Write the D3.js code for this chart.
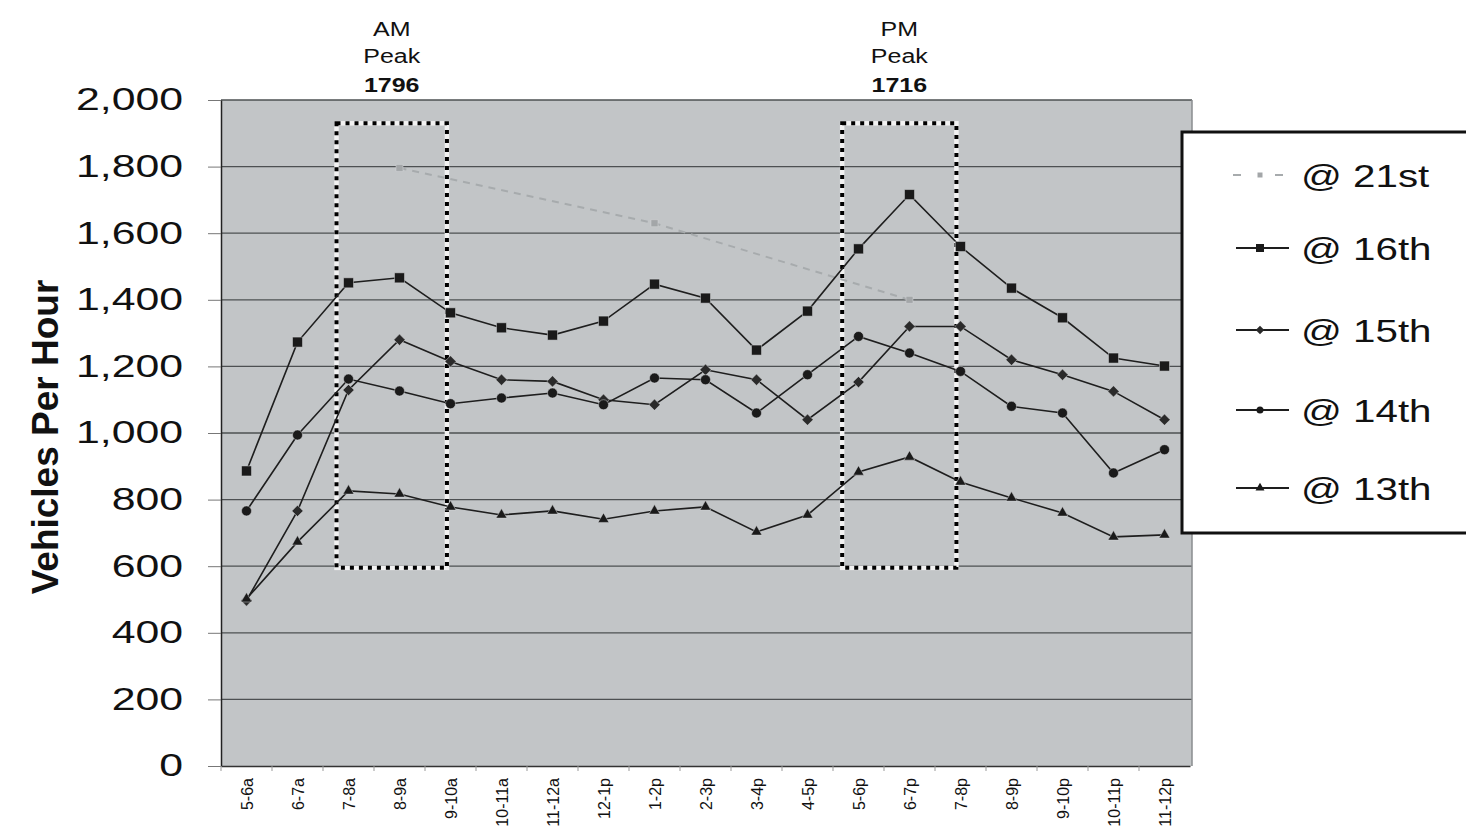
<!DOCTYPE html>
<html>
<head>
<meta charset="utf-8">
<script src="https://cdn.jsdelivr.net/npm/d3@7/dist/d3.min.js"></script>
<style>
  html, body { margin: 0; padding: 0; background: #ffffff; }
  svg { display: block; }
  text { font-family: "Liberation Sans", Arial, sans-serif; fill: #111; }
</style>
</head>
<body>
<svg id="chart" width="1466" height="830"></svg>
<script>
// ---------------- DATA ----------------
const categories = ["5-6a","6-7a","7-8a","8-9a","9-10a","10-11a","11-12a","12-1p","1-2p","2-3p",
                    "3-4p","4-5p","5-6p","6-7p","7-8p","8-9p","9-10p","10-11p","11-12p"];
const yTicks = [0,200,400,600,800,1000,1200,1400,1600,1800,2000];
const seriesNames = ["@ 21st","@ 16th","@ 15th","@ 14th","@ 13th"];
const at21st = [null,null,null,1796,null,null,null,null,1630,null,null,null,null,1400,null,null,null,null,null];
const at16th = [886,1273,1451,1466,1361,1316,1294,1336,1447,1405,1249,1366,1553,1716,1560,1435,1346,1225,1201];
const at15th = [497,766,1129,1280,1215,1160,1155,1100,1085,1190,1160,1040,1153,1320,1320,1220,1175,1125,1040];
const at14th = [766,994,1162,1126,1088,1105,1120,1085,1165,1160,1060,1175,1290,1240,1185,1080,1060,880,950];
const at13th = [502,673,826,817,778,754,766,741,766,778,703,754,883,928,853,805,760,688,694];
const peakNames = ["AM","PM"];
const peakValues = [1796,1716];
const peakFrom = ["7-8a","5-6p"];
const peakTo = ["9-10a","7-8p"];
const peakBoxRange = [595,1930];
const yTitle = "Vehicles Per Hour";

// ---------------- LAYOUT ----------------
const svg = d3.select("#chart");
const L = 221, R = 1190, T = 100, B = 766;
const x = d3.scalePoint().domain(categories).range([L, R]).padding(0.5);
const y = d3.scaleLinear().domain([0, 2000]).range([B, T]);
const step = x.step();

// plot background
svg.append("rect").attr("x", L).attr("y", T).attr("width", 1192 - L).attr("height", B - T)
  .attr("fill", "#c2c5c7");

// gridlines
svg.append("g").selectAll("line").data(yTicks.filter(d => d > 0)).join("line")
  .attr("x1", L).attr("x2", 1192).attr("y1", d => y(d)).attr("y2", d => y(d))
  .attr("stroke", "#4d5052").attr("stroke-width", 1.3);
svg.append("line").attr("x1", 1192).attr("x2", 1192).attr("y1", T).attr("y2", B)
  .attr("stroke", "#8a8d8f").attr("stroke-width", 1.5);

// y axis
const SX = 1.38;
const yAxis = svg.append("g").attr("transform", `translate(${L},0)`)
  .call(d3.axisLeft(y).tickValues(yTicks).tickFormat(d3.format(",")).tickSize(13).tickPadding(25).tickSizeOuter(0));
yAxis.select(".domain").attr("stroke", "#222").attr("stroke-width", 1.5);
yAxis.selectAll(".tick line").attr("stroke", "#777").attr("stroke-width", 1);
yAxis.selectAll(".tick text")
  .attr("font-size", 31).attr("fill", "#222")
  .attr("font-family", "Liberation Sans, Arial, sans-serif")
  .attr("x", -38 / SX).attr("transform", `scale(${SX},1)`);

// x axis
const xAxis = svg.append("g").attr("transform", `translate(0,${B})`)
  .call(d3.axisBottom(x).tickSize(0).tickPadding(0).tickSizeOuter(0));
xAxis.select(".domain").attr("stroke", "#333").attr("stroke-width", 1.5);
xAxis.selectAll(".tick text")
  .attr("font-size", 16).attr("fill", "#111")
  .attr("font-family", "Liberation Sans, Arial, sans-serif")
  .attr("text-anchor", "end").attr("dy", "0.35em")
  .attr("transform", "translate(0,12) rotate(-90)").attr("x", 0).attr("y", 0);
svg.append("g").selectAll("line").data(categories).join("line")
  .attr("x1", d => x(d) - step / 2).attr("x2", d => x(d) - step / 2)
  .attr("y1", B).attr("y2", B + 5).attr("stroke", "#999").attr("stroke-width", 1);

// y title
svg.append("text").attr("transform", "translate(58,437) rotate(-90)")
  .attr("text-anchor", "middle").attr("font-size", 37).attr("font-weight", "bold")
  .attr("fill", "#1a1a1a").text(yTitle);

// peak boxes
const boxOffsets = [[0.235, 0.07], [0.32, 0.08]];
peakNames.forEach((name, i) => {
  const x0 = x(peakFrom[i]) - boxOffsets[i][0] * step;
  const x1 = x(peakTo[i]) - boxOffsets[i][1] * step;
  const y0 = y(peakBoxRange[1]), y1 = y(peakBoxRange[0]);
  svg.append("rect").attr("x", x0).attr("y", y0).attr("width", x1 - x0).attr("height", y1 - y0)
    .attr("fill", "none").attr("stroke", "#f2f2f2").attr("stroke-width", 4.5);
  svg.append("rect").attr("x", x0).attr("y", y0).attr("width", x1 - x0).attr("height", y1 - y0)
    .attr("fill", "none").attr("stroke", "#000").attr("stroke-width", 4)
    .attr("stroke-dasharray", "4,5");
  const cx = (x0 + x1) / 2;
  const lines = [name, "Peak", String(peakValues[i])];
  const bases = [36, 63, 92];
  lines.forEach((t, j) => {
    svg.append("text")
      .attr("transform", `translate(${cx},${bases[j]}) scale(1.25,1)`)
      .attr("text-anchor", "middle").attr("font-size", 20)
      .attr("font-weight", j === 2 ? "bold" : "normal")
      .attr("fill", "#1a1a1a").text(t);
  });
});

// series
const series = [
  {name: seriesNames[0], values: at21st, color: "#a7abad", width: 2, dash: "7,6", marker: "square", size: 7, fill: "#a3a6a8"},
  {name: seriesNames[1], values: at16th, color: "#1e1e1e", width: 1.6, dash: null, marker: "square", size: 10, fill: "#1a1a1a"},
  {name: seriesNames[2], values: at15th, color: "#1e1e1e", width: 1.6, dash: null, marker: "diamond", size: 8, fill: "#2a2a2a"},
  {name: seriesNames[3], values: at14th, color: "#1e1e1e", width: 1.6, dash: null, marker: "circle", size: 10, fill: "#1a1a1a"},
  {name: seriesNames[4], values: at13th, color: "#1e1e1e", width: 1.6, dash: null, marker: "triangle", size: 11, fill: "#1a1a1a"}
];
function symPath(kind, size) {
  if (kind === "square" || kind === "diamond") return d3.symbol().type(d3.symbolSquare).size(size * size)();
  if (kind === "circle") return d3.symbol().type(d3.symbolCircle).size(Math.PI * size * size / 4)();
  return d3.symbol().type(d3.symbolTriangle).size(size * size * 0.43)();
}
function symRot(kind) { return kind === "diamond" ? " rotate(45)" : ""; }

const line = d3.line().x(d => x(d.c)).y(d => y(d.v));
series.forEach(s => {
  const pts = categories.map((c, i) => ({c, v: s.values[i]})).filter(d => d.v != null);
  svg.append("path").datum(pts).attr("d", line).attr("fill", "none")
    .attr("stroke", s.color).attr("stroke-width", s.width)
    .attr("stroke-dasharray", s.dash);
  svg.append("g").selectAll("path").data(pts).join("path")
    .attr("d", symPath(s.marker, s.size))
    .attr("transform", d => `translate(${x(d.c)},${y(d.v)})` + symRot(s.marker))
    .attr("fill", s.fill).attr("stroke", "#d8dadb").attr("stroke-width", 0.8).attr("stroke-opacity", 0.6);
});

// legend
const lg = svg.append("g");
lg.append("rect").attr("x", 1182).attr("y", 132).attr("width", 300).attr("height", 401)
  .attr("fill", "#fff").attr("stroke", "#111").attr("stroke-width", 3);
const baselines = [187, 260, 342, 422, 500];
series.forEach((s, i) => {
  const cy = baselines[i] - 12;
  if (s.dash) {
    lg.append("line").attr("x1", 1233).attr("x2", 1241).attr("y1", cy).attr("y2", cy)
      .attr("stroke", s.color).attr("stroke-width", 2);
    lg.append("line").attr("x1", 1275).attr("x2", 1283).attr("y1", cy).attr("y2", cy)
      .attr("stroke", s.color).attr("stroke-width", 2);
  } else {
    lg.append("line").attr("x1", 1236).attr("x2", 1289).attr("y1", cy).attr("y2", cy)
      .attr("stroke", s.color).attr("stroke-width", 2);
  }
  lg.append("path").attr("d", symPath(s.marker, s.marker === "circle" ? 7 : s.size - 2))
    .attr("transform", `translate(1260,${cy})` + symRot(s.marker)).attr("fill", s.fill);
  lg.append("text").attr("transform", `translate(1301,${baselines[i]}) scale(1.3,1)`)
    .attr("font-size", 31).attr("fill", "#111").text(s.name);
});
</script>
</body>
</html>
